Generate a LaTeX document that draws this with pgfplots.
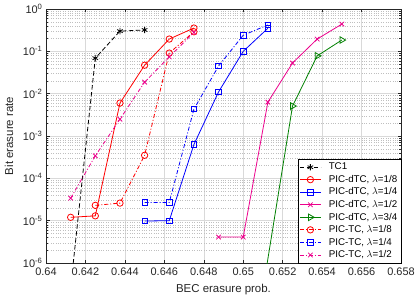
\documentclass[border=0pt]{standalone}
\usepackage{fontspec}
\setmainfont{Liberation Sans}
\usepackage{pgfplots}
\pgfplotsset{compat=1.18}
\definecolor{mgreen}{rgb}{0,0.5,0}
\begin{document}
\begin{tikzpicture}
\path[use as bounding box] (-46bp,-37bp) rectangle (369bp,263bp);
\begin{axis}[
  at={(0,0)}, anchor=south west,
  scale only axis, width=355bp, height=254bp,
  ymode=log, xmin=0.64, xmax=0.658, ymin=1e-6, ymax=1,
  xtick={0.64,0.642,0.644,0.646,0.648,0.65,0.652,0.654,0.656,0.658},
  xticklabels={0.64,0.642,0.644,0.646,0.648,0.65,0.652,0.654,0.656,0.658},
  ytick={1e-6,1e-5,1e-4,1e-3,1e-2,1e-1,1},
  yticklabels={10\textsuperscript{-6},10\textsuperscript{-5},10\textsuperscript{-4},10\textsuperscript{-3},10\textsuperscript{-2},10\textsuperscript{-1},10\textsuperscript{0}},
  minor x tick num=0,
  tick label style={font=\fontsize{11}{13}\selectfont, black!85},
  xticklabel style={yshift=-1bp},
  label style={font=\fontsize{11.5}{13}\selectfont, black!85},
  xlabel={BEC erasure prob.},
  ylabel={Bit erasure rate},
  xlabel style={at={(axis description cs:0.5,0)}, anchor=center, yshift=-27bp},
  ylabel style={at={(axis description cs:-0.104,0.5)}, anchor=center},
  xmajorgrids, ymajorgrids, yminorgrids,
  major grid style={black!15, line width=0.5bp},
  minor grid style={black!25, dotted, line width=0.4bp},
  axis line style={black!85, line width=0.5bp},
  major tick length=3.5bp, minor tick length=2bp,
  every tick/.style={black!85, line width=0.4bp},
  clip marker paths=true,
  legend style={at={(1,0)}, anchor=south east, draw=black, fill=white,
    font=\fontsize{9.8}{10.5}\selectfont, inner sep=1.5bp, row sep=0bp,
    column sep=5.5bp, line width=0.5bp},
  legend cell align=left,
  legend image code/.code={\draw[mark repeat=2,mark phase=2] plot coordinates {(0bp,0bp)(10.5bp,0bp)(21bp,0bp)};},
  every axis plot/.append style={line width=0.8bp},
]
% TC1
\addplot[black, dash pattern=on 4.5bp off 2.5bp, mark=asterisk, mark size=3.2bp, mark options={solid}]
  coordinates {(0.64115,1e-7)(0.6425,0.069)(0.64375,0.30)(0.645,0.32)};
\addlegendentry{TC1}
% PIC-dTC 1/8
\addplot[red, solid, mark=o, mark size=3.2bp]
  coordinates {(0.64125,1.2e-5)(0.6425,1.3e-5)(0.64375,6e-3)(0.645,0.047)(0.64625,0.195)(0.6475,0.355)};
\addlegendentry{PIC-dTC, $\lambda$=1/8}
% PIC-dTC 1/4
\addplot[blue, solid, mark=square, mark size=2.7bp]
  coordinates {(0.645,9.8e-6)(0.64625,1e-5)(0.6475,6.3e-4)(0.64875,0.011)(0.65,0.10)(0.65125,0.35)};
\addlegendentry{PIC-dTC, $\lambda$=1/4}
% PIC-dTC 1/2
\addplot[magenta, solid, mark=x, mark size=3.2bp]
  coordinates {(0.64875,4.1e-6)(0.65,4.1e-6)(0.65125,6.3e-3)(0.6525,0.053)(0.65375,0.195)(0.655,0.44)};
\addlegendentry{PIC-dTC, $\lambda$=1/2}
% PIC-dTC 3/4
\addplot[mgreen, solid, mark=triangle, mark size=3.8bp, mark options={rotate=-90}]
  coordinates {(0.65087,1e-7)(0.6525,5.1e-3)(0.65375,0.078)(0.655,0.185)};
\addlegendentry{PIC-dTC, $\lambda$=3/4}
% PIC-TC 1/8
\addplot[red, dash pattern=on 4bp off 2bp on 1bp off 2bp, mark=o, mark size=3.2bp, mark options={solid}]
  coordinates {(0.6425,2.3e-5)(0.64375,2.6e-5)(0.645,3.5e-4)(0.64625,0.091)(0.6475,0.29)};
\addlegendentry{PIC-TC, $\lambda$=1/8}
% PIC-TC 1/4
\addplot[blue, dash pattern=on 4bp off 2bp on 1bp off 2bp, mark=square, mark size=2.7bp, mark options={solid}]
  coordinates {(0.645,2.7e-5)(0.64625,2.7e-5)(0.6475,4.3e-3)(0.64875,0.045)(0.65,0.24)(0.65125,0.42)};
\addlegendentry{PIC-TC, $\lambda$=1/4}
% PIC-TC 1/2
\addplot[magenta, dash pattern=on 4bp off 2bp on 1bp off 2bp, mark=x, mark size=3.2bp, mark options={solid}]
  coordinates {(0.64125,3.4e-5)(0.6425,3.4e-4)(0.64375,2.5e-3)(0.645,0.0187)(0.64625,0.074)(0.6475,0.28)};
\addlegendentry{PIC-TC, $\lambda$=1/2}
\end{axis}
\end{tikzpicture}
\end{document}
